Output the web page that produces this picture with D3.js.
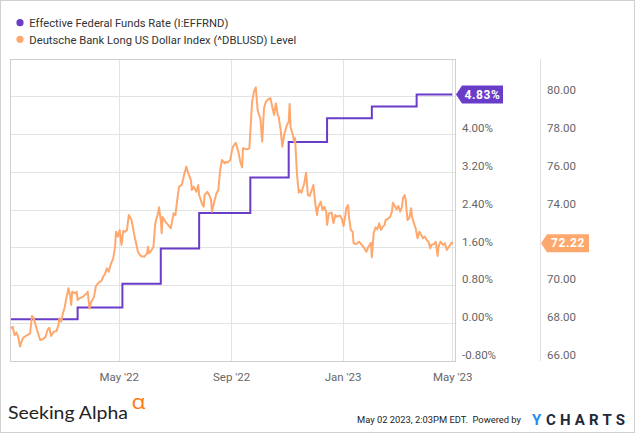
<!DOCTYPE html>
<html>
<head>
<meta charset="utf-8">
<script src="https://cdn.jsdelivr.net/npm/d3@7"></script>
<style>
html,body{margin:0;padding:0;background:#fff;}
svg{display:block;font-family:Roboto,"Noto Sans",sans-serif;}
</style>
</head>
<body>
<svg id="chart" width="635" height="433"></svg>
<script>
// ---------- DATA ----------
const seriesNames = ["Effective Federal Funds Rate (I:EFFRND)", "Deutsche Bank Long US Dollar Index (^DBLUSD) Level"];
const seriesColors = ["#6a3dc9", "#ffa86e"];

// Fed funds: change dates and values (step series)
const fedDates = ["2022-01-03","2022-03-17","2022-05-05","2022-06-16","2022-07-28","2022-09-22","2022-11-03","2022-12-15","2023-02-02","2023-03-23","2023-05-01"];
const fedValues = [0.08,0.33,0.83,1.58,2.33,3.08,3.83,4.33,4.58,4.83,4.83];

// Dollar index
const usdDates = ["2022-01-03","2022-01-05","2022-01-07","2022-01-09","2022-01-11","2022-01-13","2022-01-14","2022-01-16","2022-01-18","2022-01-21","2022-01-24","2022-01-26","2022-01-28","2022-01-31","2022-02-04","2022-02-07","2022-02-10","2022-02-12","2022-02-14","2022-02-16","2022-02-19","2022-02-22","2022-02-24","2022-02-25","2022-02-27","2022-03-01","2022-03-03","2022-03-05","2022-03-07","2022-03-09","2022-03-10","2022-03-11","2022-03-14","2022-03-16","2022-03-17","2022-03-19","2022-03-23","2022-03-27","2022-03-28","2022-03-30","2022-04-01","2022-04-04","2022-04-06","2022-04-09","2022-04-12","2022-04-14","2022-04-16","2022-04-18","2022-04-20","2022-04-22","2022-04-25","2022-04-27","2022-04-28","2022-04-30","2022-05-02","2022-05-04","2022-05-06","2022-05-08","2022-05-10","2022-05-12","2022-05-15","2022-05-18","2022-05-20","2022-05-22","2022-05-25","2022-05-29","2022-06-01","2022-06-02","2022-06-03","2022-06-06","2022-06-08","2022-06-10","2022-06-13","2022-06-14","2022-06-16","2022-06-17","2022-06-18","2022-06-21","2022-06-24","2022-06-27","2022-06-30","2022-07-02","2022-07-04","2022-07-06","2022-07-09","2022-07-12","2022-07-14","2022-07-16","2022-07-19","2022-07-20","2022-07-22","2022-07-25","2022-07-27","2022-07-28","2022-07-31","2022-08-02","2022-08-03","2022-08-06","2022-08-08","2022-08-10","2022-08-11","2022-08-14","2022-08-16","2022-08-18","2022-08-20","2022-08-22","2022-08-25","2022-08-26","2022-08-28","2022-08-31","2022-09-02","2022-09-03","2022-09-06","2022-09-09","2022-09-11","2022-09-13","2022-09-14","2022-09-18","2022-09-21","2022-09-22","2022-09-24","2022-09-26","2022-09-28","2022-09-30","2022-10-01","2022-10-03","2022-10-05","2022-10-07","2022-10-09","2022-10-12","2022-10-14","2022-10-16","2022-10-18","2022-10-20","2022-10-22","2022-10-23","2022-10-25","2022-10-27","2022-10-29","2022-11-01","2022-11-03","2022-11-04","2022-11-05","2022-11-07","2022-11-09","2022-11-10","2022-11-12","2022-11-14","2022-11-15","2022-11-17","2022-11-20","2022-11-22","2022-11-24","2022-11-26","2022-11-30","2022-12-02","2022-12-04","2022-12-05","2022-12-08","2022-12-10","2022-12-12","2022-12-14","2022-12-15","2022-12-17","2022-12-20","2022-12-22","2022-12-24","2022-12-25","2022-12-29","2022-12-31","2023-01-02","2023-01-04","2023-01-05","2023-01-07","2023-01-08","2023-01-10","2023-01-12","2023-01-13","2023-01-16","2023-01-19","2023-01-22","2023-01-24","2023-01-27","2023-01-29","2023-02-01","2023-02-02","2023-02-04","2023-02-06","2023-02-08","2023-02-10","2023-02-12","2023-02-14","2023-02-16","2023-02-17","2023-02-19","2023-02-22","2023-02-24","2023-02-25","2023-02-27","2023-03-01","2023-03-03","2023-03-05","2023-03-07","2023-03-08","2023-03-10","2023-03-11","2023-03-13","2023-03-15","2023-03-17","2023-03-18","2023-03-20","2023-03-22","2023-03-24","2023-03-26","2023-03-28","2023-03-30","2023-04-01","2023-04-03","2023-04-05","2023-04-07","2023-04-08","2023-04-11","2023-04-13","2023-04-15","2023-04-16","2023-04-18","2023-04-21","2023-04-23","2023-04-25","2023-04-27","2023-04-28","2023-04-30","2023-05-02"];
const usdValues = [67.73,67.81,67.37,67.50,67.28,66.76,66.94,67.20,67.28,67.37,67.46,68.38,68.26,67.73,67.11,67.15,67.28,67.64,67.76,67.32,67.55,67.59,67.90,68.26,68.08,68.52,68.87,69.40,69.84,69.40,68.96,69.66,69.58,69.66,69.22,69.31,69.40,69.58,69.66,68.78,69.13,69.40,69.96,70.14,70.23,70.45,70.60,70.90,70.72,71.07,71.43,72.04,72.83,72.57,72.92,72.13,72.88,72.83,72.92,73.71,73.45,72.66,72.22,71.77,71.55,71.51,71.69,72.04,71.69,71.86,72.04,73.28,73.80,74.12,73.45,72.75,73.62,73.36,73.19,73.01,73.80,73.71,74.51,75.21,75.30,75.92,76.27,75.92,75.56,75.03,75.21,74.94,75.30,74.77,74.33,74.15,74.77,74.94,74.77,74.51,73.89,74.51,74.86,75.03,76.09,76.62,76.44,76.53,76.48,76.62,77.15,77.32,77.53,77.04,76.53,76.23,77.24,77.18,77.24,78.11,79.70,80.23,80.46,79.26,79.09,78.82,77.59,79.35,79.70,79.84,79.88,79.43,79.00,79.61,79.00,78.91,78.29,77.32,77.94,78.47,78.64,79.58,78.38,78.03,77.59,77.77,75.92,74.89,75.03,74.89,75.39,75.95,74.77,74.72,75.30,74.36,73.71,74.07,74.42,73.98,74.15,73.89,73.19,73.80,73.84,73.28,73.71,73.62,73.68,73.54,73.13,73.71,74.08,74.24,73.62,72.92,72.83,72.22,72.18,72.30,72.13,72.01,71.77,72.01,72.25,71.48,72.75,73.06,72.96,73.28,72.92,73.10,73.19,73.45,73.49,73.62,73.89,74.36,74.19,74.01,74.19,73.89,74.15,74.60,74.77,74.51,73.45,73.54,74.07,73.62,73.28,73.01,72.48,72.83,72.66,72.48,72.57,72.39,72.30,71.95,72.13,72.18,72.30,71.55,72.04,72.30,72.13,72.22,71.86,72.01,72.08,72.25,72.22];

const xTickDates = ["2022-05-01","2022-09-01","2023-01-01","2023-05-01"];
const xTickLabels = ["May '22","Sep '22","Jan '23","May '23"];
const leftTicks = [-0.8,0,0.8,1.6,2.4,3.2,4.0,4.8];
const leftTickLabels = ["-0.80%","0.00%","0.80%","1.60%","2.40%","3.20%","4.00%","4.80%"];
const rightTicks = [66,68,70,72,74,76,78,80];
const rightTickLabels = ["66.00","68.00","70.00","72.00","74.00","76.00","78.00","80.00"];
const fedLastLabel = "4.83%";
const usdLastLabel = "72.22";
const footerText = "May 02 2023, 2:03PM EDT.  Powered by";

// ---------- DRAW ----------
const parse = d3.timeParse("%Y-%m-%d");
const svg = d3.select("#chart");
const P = {left:10, right:455, top:59, bottom:361, axis2:540};

svg.append("rect").attr("x",0.5).attr("y",0.5).attr("width",634).attr("height",432)
  .attr("fill","#fff").attr("stroke","#d0d0d0");

const x = d3.scaleTime().domain([parse("2022-01-02"), parse("2023-05-04")]).range([P.left, P.right]);
const yL = d3.scaleLinear().domain([-0.8, 4.8]).range([P.bottom, 96]);
const yR = d3.scaleLinear().domain([66, 80]).range([P.bottom, 96]);

const fedLastY = yL(fedValues[fedValues.length-1]);
const usdLastY = yR(usdValues[usdValues.length-1]);

// gridlines
const grid = svg.append("g");
grid.selectAll("line.h").data(leftTicks).join("line")
  .attr("x1",P.left).attr("x2",P.right)
  .attr("y1",d=>Math.round(yL(d))+0.5).attr("y2",d=>Math.round(yL(d))+0.5)
  .attr("stroke","#e3e3e3");
grid.selectAll("line.v").data(xTickDates).join("line")
  .attr("x1",d=>Math.round(x(parse(d)))+0.5).attr("x2",d=>Math.round(x(parse(d)))+0.5)
  .attr("y1",P.top).attr("y2",P.bottom)
  .attr("stroke","#e3e3e3");

// frame
svg.append("rect").attr("x",P.left+0.5).attr("y",P.top+0.5)
  .attr("width",P.right-P.left).attr("height",P.bottom-P.top)
  .attr("fill","none").attr("stroke","#cfcfcf");
svg.append("line").attr("x1",P.axis2+0.5).attr("x2",P.axis2+0.5)
  .attr("y1",P.top).attr("y2",P.bottom).attr("stroke","#e0e0e0");

// axes (labels hidden behind the last-value badges are not shown, as in the reference)
const axL = svg.append("g").attr("transform",`translate(${P.right+7},0)`)
  .call(d3.axisRight(yL).tickValues(leftTicks).tickSize(0).tickPadding(0)
    .tickFormat((d,i)=>leftTickLabels[i]));
const axR = svg.append("g").attr("transform",`translate(${P.axis2+7},0)`)
  .call(d3.axisRight(yR).tickValues(rightTicks).tickSize(0).tickPadding(0)
    .tickFormat((d,i)=>rightTickLabels[i]));
[[axL,yL,fedLastY],[axR,yR,usdLastY]].forEach(([a,sc,by])=>{
  a.select(".domain").remove();
  a.selectAll(".tick").filter(d=>Math.abs(sc(d)-6-by)<13).remove();
  a.selectAll("text").attr("y",-6).attr("fill","#666").style("font-size","11.5px").style("font-family","Roboto");
});
const axB = svg.append("g").attr("transform",`translate(0,${P.bottom})`)
  .call(d3.axisBottom(x).tickValues(xTickDates.map(parse)).tickSize(0).tickPadding(12)
    .tickFormat((d,i)=>xTickLabels[i]));
axB.select(".domain").remove();
axB.selectAll("text").attr("fill","#666").style("font-size","11.5px").style("font-family","Roboto");

// lines
svg.append("clipPath").attr("id","clip").append("rect")
  .attr("x",P.left).attr("y",P.top).attr("width",P.right-P.left).attr("height",P.bottom-P.top);
const fedData = fedDates.map((d,i)=>({date:parse(d), v:fedValues[i]}));
const usdData = usdDates.map((d,i)=>({date:parse(d), v:usdValues[i]}));

svg.append("path").datum(fedData).attr("clip-path","url(#clip)")
  .attr("fill","none").attr("stroke",seriesColors[0]).attr("stroke-width",2)
  .attr("d", d3.line().curve(d3.curveStepAfter).x(d=>x(d.date)).y(d=>yL(d.v)));
svg.append("path").datum(usdData).attr("clip-path","url(#clip)")
  .attr("fill","none").attr("stroke",seriesColors[1]).attr("stroke-width",2)
  .attr("stroke-linejoin","round")
  .attr("d", d3.line().x(d=>x(d.date)).y(d=>yR(d.v)));

// badges
function badge(x0, yc, w, color, label){
  const h = 18, a = 6;
  const g = svg.append("g");
  g.append("path").attr("fill",color)
    .attr("d",`M${x0},${yc} L${x0+a},${yc-h/2} L${x0+a+w},${yc-h/2} L${x0+a+w},${yc+h/2} L${x0+a},${yc+h/2} Z`);
  g.append("text").attr("x",x0+a+w/2).attr("y",yc+4.2).attr("text-anchor","middle")
    .attr("fill","#fff").style("font-size","12px").style("font-weight","bold")
    .style("letter-spacing","0.6px").style("font-family","Roboto").text(label);
}
badge(P.right+1, fedLastY, 41, seriesColors[0], fedLastLabel);
badge(P.axis2+1, usdLastY, 42, seriesColors[1], usdLastLabel);

// legend
const leg = svg.append("g");
seriesNames.forEach((n,i)=>{
  leg.append("circle").attr("cx",20).attr("cy",22.7+i*16.6).attr("r",3.6).attr("fill",seriesColors[i]);
  leg.append("text").attr("x",29.3).attr("y",27+i*16.6).attr("fill","#333")
    .style("font-size","11.8px").style("font-family","Roboto")
    .attr("textLength", i===0 ? 199 : 267).attr("lengthAdjust","spacingAndGlyphs").text(n);
});

// footer
svg.append("text").attr("x",8).attr("y",419).attr("fill","#222")
  .style("font-size","18px").style("font-family","Lato").attr("textLength",120)
  .attr("lengthAdjust","spacingAndGlyphs").text("Seeking Alpha");
svg.append("text").attr("x",131.5).attr("y",409).attr("fill","#ff7a12")
  .style("font-size","20px").style("font-family","Open Sans").attr("textLength",14)
  .attr("lengthAdjust","spacingAndGlyphs").text("α");
svg.append("text").attr("x",357).attr("y",423).attr("fill","#222")
  .style("font-size","9.4px").style("font-family","Roboto").style("white-space","pre")
  .attr("textLength",164).attr("lengthAdjust","spacingAndGlyphs").text(footerText);
svg.append("text").attr("x",532).attr("y",424.5).attr("fill","#1e8ff0")
  .style("font-size","15px").style("font-weight","bold").style("font-family","Roboto").text("Y");
svg.append("text").attr("x",546).attr("y",424.5).attr("fill","#1c2a3a")
  .style("font-size","15px").style("font-weight","bold").style("font-family","Roboto")
  .attr("textLength",79).attr("lengthAdjust","spacing").text("CHARTS");
</script>
</body>
</html>
